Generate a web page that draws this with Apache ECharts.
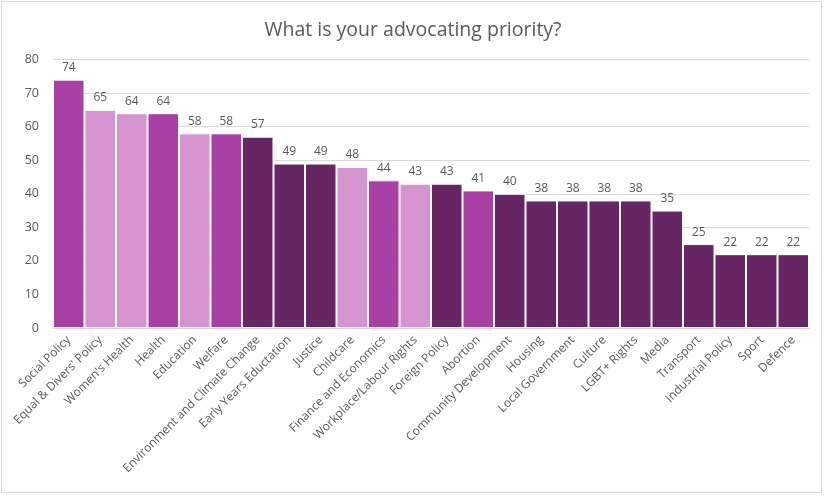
<!DOCTYPE html>
<html>
<head>
<meta charset="utf-8">
<script src="https://cdn.jsdelivr.net/npm/echarts@6/dist/echarts.min.js"></script>
<style>
  html, body { margin: 0; padding: 0; background: #fff; }
  #frame { position: absolute; left: 1px; top: 1px; width: 821px; height: 492px; border: 1px solid #d9d9d9; box-sizing: border-box; }
  #chart { position: absolute; left: 0; top: 0; width: 826px; height: 496px; }
</style>
</head>
<body>
<div id="frame"></div>
<div id="chart"></div>
<script>
// Advocacy priorities, sorted by number of responses
const categories = [
  "Social Policy", "Equal & Divers' Policy", "Women's Health", "Health", "Education",
  "Welfare", "Environment and Climate Change", "Early Years Eductation", "Justice",
  "Childcare", "Finance and Economics", "Workplace/Labour Rights", "Foreign Policy",
  "Abortion", "Community Development", "Housing", "Local Government", "Culture",
  "LGBT+ Rights", "Media", "Transport", "Industrial Policy", "Sport", "Defence"
];
const counts = [74, 65, 64, 64, 58, 58, 57, 49, 49, 48, 44, 43, 43, 41, 40, 38, 38, 38, 38, 35, 25, 22, 22, 22];
// Colour group of each bar (0 = magenta, 1 = light pink, 2 = dark plum)
const groups = [0, 1, 1, 0, 1, 0, 2, 2, 2, 1, 0, 1, 2, 0, 2, 2, 2, 2, 2, 2, 2, 2, 2, 2];
const yTicks = [0, 10, 20, 30, 40, 50, 60, 70, 80];

const palette = ['#A941A5', '#D593D0', '#662663'];
const font = '"Open Sans", "Noto Sans", sans-serif';
const textColor = '#595959';

const chart = echarts.init(document.getElementById('chart'), null, { renderer: 'canvas' });
chart.setOption({
  animation: false,
  backgroundColor: 'transparent',
  title: {
    text: 'What is your advocating priority?',
    left: 'center',
    top: 15,
    textStyle: { fontFamily: font, fontSize: 19.5, fontWeight: 'normal', color: textColor }
  },
  grid: { left: 53, right: 17, top: 59.5, bottom: 168, containLabel: false },
  xAxis: {
    type: 'category',
    data: categories,
    axisTick: { show: false },
    axisLine: { lineStyle: { color: '#d9d9d9', width: 1 } },
    axisLabel: {
      interval: 0, rotate: 45, margin: 10,
      fontFamily: font, fontSize: 12, color: textColor
    }
  },
  yAxis: {
    type: 'value',
    min: yTicks[0], max: yTicks[yTicks.length - 1], interval: 10,
    axisLine: { show: false },
    axisTick: { show: false },
    splitLine: { lineStyle: { color: '#d9d9d9', width: 1 } },
    axisLabel: { margin: 14, fontFamily: font, fontSize: 12.5, color: textColor }
  },
  series: [{
    type: 'bar',
    barCategoryGap: 0,
    data: counts.map((v, i) => ({ value: v, itemStyle: { color: palette[groups[i]] } })),
    itemStyle: { borderColor: '#ffffff', borderWidth: 1 },
    label: {
      show: true, position: 'top', distance: 6,
      fontFamily: font, fontSize: 12, color: textColor
    }
  }]
});
</script>
</body>
</html>
